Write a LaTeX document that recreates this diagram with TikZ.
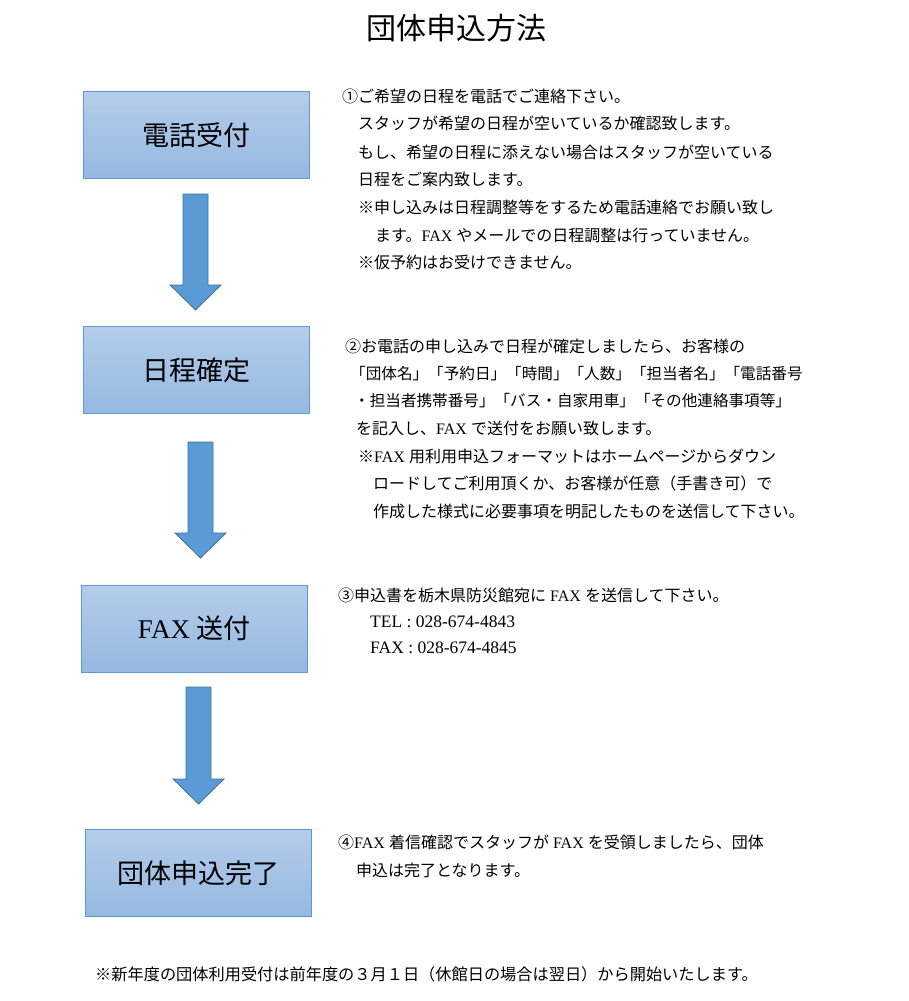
\documentclass[tikz,border=0pt]{standalone}
\usepackage{fontspec}
\setmainfont{Liberation Serif}
\newfontfamily\jp{Noto Sans CJK JP}
\newcommand\en[1]{{\rmfamily #1}}
\definecolor{boxtop}{HTML}{B4CDEA}
\definecolor{boxbot}{HTML}{95B8E1}
\definecolor{boxline}{HTML}{5B9BD5}
\definecolor{arrfill}{HTML}{5B9BD5}
\definecolor{arrline}{HTML}{41719C}
\tikzset{
  stepbox/.style={draw=boxline, line width=1pt, top color=boxtop, bottom color=boxbot,
    minimum width=226pt, minimum height=87pt, inner sep=0pt, font=\jp\fontsize{27}{30}\selectfont},
  txt/.style={anchor=west, inner sep=0pt, font=\jp\fontsize{16}{20}\selectfont},
  downarrow/.style={fill=arrfill, draw=arrline, line width=0.8pt, line join=miter}
}

\begin{document}
\begin{tikzpicture}[x=1pt,y=-1pt]
\useasboundingbox (0,0) rectangle (908,1001);
\node[font=\jp\fontsize{30}{34}\selectfont] (title) at (456,28) {団体申込方法};

% step boxes
\node[stepbox] (tel) at (196.5,135) {電話受付};
\node[stepbox] (fix) at (196.5,370) {日程確定};
\node[stepbox] (fax) at (194,628.5) {\en{FAX}\hspace{6pt}送付};
\node[stepbox] (done) at (198.5,873) {団体申込完了};

% block arrows
\draw[downarrow] (183,194) -- (208,194) -- (208,285) -- (221,285) -- (195.5,310) -- (170,285) -- (183,285) -- cycle;
\draw[downarrow] (188,442) -- (213,442) -- (213,533) -- (226,533) -- (200.5,558) -- (175,533) -- (188,533) -- cycle;
\draw[downarrow] (186,687) -- (211,687) -- (211,779) -- (224,779) -- (198.5,804) -- (173,779) -- (186,779) -- cycle;

% step 1
\node[txt] (s1a) at (342,96) {①ご希望の日程を電話でご連絡下さい。};
\node[txt] (s1b) at (358,123) {スタッフが希望の日程が空いているか確認致します。};
\node[txt] (s1c) at (358,152) {もし、希望の日程に添えない場合はスタッフが空いている};
\node[txt] (s1d) at (358,179) {日程をご案内致します。};
\node[txt] (s1e) at (358,207) {※申し込みは日程調整等をするため電話連絡でお願い致し};
\node[txt] (s1f) at (375,235) {ます。\en{FAX}\hspace{4pt}やメールでの日程調整は行っていません。};
\node[txt] (s1g) at (358,262) {※仮予約はお受けできません。};

% step 2
\node[txt] (s2a) at (345,346) {②お電話の申し込みで日程が確定しましたら、お客様の};
\node[txt, font=\jp\fontsize{15.6}{20}\selectfont] (s2b) at (350,373.5) {「団体名」「予約日」「時間」「人数」「担当者名」「電話番号};
\node[txt, font=\jp\fontsize{15.6}{20}\selectfont] (s2c) at (354,401) {・担当者携帯番号」「バス・自家用車」「その他連絡事項等」};
\node[txt] (s2d) at (356,428.5) {を記入し、\en{FAX}\hspace{4pt}で送付をお願い致します。};
\node[txt] (s2e) at (358,456) {※\en{FAX}\hspace{4pt}用利用申込フォーマットはホームページからダウン};
\node[txt] (s2f) at (373,483.5) {ロードしてご利用頂くか、お客様が任意（手書き可）で};
\node[txt] (s2g) at (373,511) {作成した様式に必要事項を明記したものを送信して下さい。};

% step 3
\node[txt] (s3a) at (338,595) {③申込書を栃木県防災館宛に\hspace{4pt}\en{FAX}\hspace{4pt}を送信して下さい。};
\node[txt, font=\rmfamily\fontsize{17.5}{20}\selectfont] (s3b) at (370,622) {TEL : 028-674-4843};
\node[txt, font=\rmfamily\fontsize{17.5}{20}\selectfont] (s3c) at (370,648) {FAX : 028-674-4845};

% step 4
\node[txt] (s4a) at (338,842) {④\en{FAX}\hspace{4pt}着信確認でスタッフが\hspace{4pt}\en{FAX}\hspace{4pt}を受領しましたら、団体};
\node[txt] (s4b) at (356,870) {申込は完了となります。};

% footer
\node[txt, font=\jp\fontsize{16.2}{20}\selectfont] (note) at (95,974) {※新年度の団体利用受付は前年度の３月１日（休館日の場合は翌日）から開始いたします。};
\end{tikzpicture}
\end{document}
